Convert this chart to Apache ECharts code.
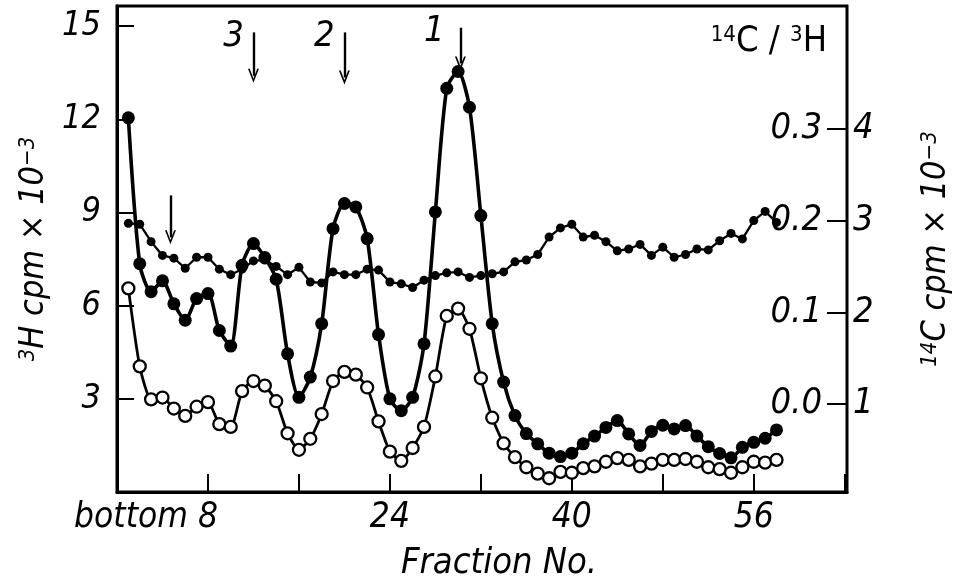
<!DOCTYPE html>
<html><head><meta charset="utf-8">
<script src="https://cdn.jsdelivr.net/npm/echarts@6/dist/echarts.min.js"></script>
<style>html,body{margin:0;padding:0;background:#fff}#c{width:964px;height:587px}</style>
</head><body><div id="c"></div>
<script>
// ---- data ----
const fractions = [1,2,3,4,5,6,7,8,9,10,11,12,13,14,15,16,17,18,19,20,21,22,23,24,25,26,27,28,29,30,31,32,33,34,35,36,37,38,39,40,41,42,43,44,45,46,47,48,49,50,51,52,53,54,55,56,57,58];
// 3H cpm x 10^-3 (filled circles, heavy line)
const h3Cpm = [12.05,7.35,6.45,6.8,6.06,5.53,6.23,6.39,5.2,4.7,7.3,8.0,7.55,6.85,4.45,3.05,3.7,5.42,8.48,9.29,9.18,8.16,5.07,3.0,2.62,3.05,4.77,9.02,13.0,13.54,12.39,8.9,5.42,3.54,2.46,1.88,1.55,1.25,1.14,1.25,1.55,1.8,2.08,2.3,1.87,1.5,1.95,2.15,2.03,2.14,1.8,1.46,1.24,1.1,1.44,1.6,1.73,2.0];
// 14C cpm x 10^-3 (open circles)
const c14Cpm = [2.26,1.41,1.05,1.07,0.95,0.87,0.97,1.02,0.78,0.75,1.14,1.25,1.2,1.03,0.68,0.5,0.62,0.89,1.25,1.35,1.32,1.18,0.81,0.48,0.38,0.52,0.75,1.3,1.96,2.04,1.82,1.28,0.85,0.57,0.42,0.31,0.24,0.19,0.26,0.25,0.3,0.32,0.37,0.41,0.39,0.32,0.35,0.39,0.39,0.4,0.37,0.31,0.29,0.25,0.31,0.37,0.36,0.39];
// 14C/3H ratio (small dots, thin line)
const ratio14C3H = [0.197,0.196,0.177,0.162,0.159,0.148,0.16,0.16,0.147,0.141,0.147,0.156,0.157,0.15,0.141,0.149,0.133,0.132,0.144,0.141,0.141,0.147,0.146,0.133,0.131,0.127,0.135,0.14,0.143,0.144,0.138,0.14,0.142,0.144,0.155,0.157,0.163,0.182,0.192,0.196,0.182,0.184,0.177,0.167,0.169,0.174,0.162,0.171,0.16,0.163,0.169,0.168,0.178,0.186,0.18,0.2,0.21,0.198];
// tick labels
const xTickLabels = {8:'bottom 8', 24:'24', 40:'40', 56:'56'};
const h3Ticks = [3,6,9,12,15];
const ratioTicks = [0.0,0.1,0.2,0.3];
const c14Ticks = [1,2,3,4];
// peak markers (fraction, arrow top / tip on the 3H scale)
const peakLabels = ['3','2','1'];
const peakFractions = [12,20,30.2];
const peakArrowTop = [14.8,14.8,14.95];
const peakArrowTip = [13.4,13.35,13.8];
const extraArrow = {fraction:4.7, top:9.55, tip:8.2};

// ---- chart ----
const FONT = "'Liberation Sans Narrow','DejaVu Sans Condensed','Liberation Sans',sans-serif";
const chart = echarts.init(document.getElementById('c'));
const meas = document.createElement('canvas').getContext('2d');
meas.font = 'italic 35px ' + FONT;
const padW = meas.measureText('bottom ').width;

const arrowPath = 'path://M5 0L10 11L8.4 11L5 3.4L1.6 11L0 11Z';
const arrowLines = peakFractions.map((f,i)=>[{coord:[f,peakArrowTop[i]]},{coord:[f,peakArrowTip[i]]}]);
arrowLines.push([{coord:[extraArrow.fraction,extraArrow.top]},{coord:[extraArrow.fraction,extraArrow.tip]}]);

const txt = {fontFamily:FONT, fontStyle:'italic', color:'#000'};

chart.setOption({
  animation:false,
  backgroundColor:'#fff',
  grid:{left:117,right:117,top:6,bottom:95,show:true,borderColor:'#000',borderWidth:3,backgroundColor:'transparent'},
  xAxis:{
    type:'value',min:0,max:64.2,interval:8,
    axisLine:{lineStyle:{color:'#000',width:3}},
    axisTick:{inside:true,length:18,lineStyle:{color:'#000',width:2}},
    splitLine:{show:false},
    axisLabel:Object.assign({},txt,{fontSize:35,margin:8,
      formatter:v=>{ const l=xTickLabels[v]; if(!l) return ''; if(v===8) return '{a|bottom }{a|8}{p|}'; return l; },
      rich:{a:Object.assign({},txt,{fontSize:35}), p:{width:padW}}}),
    name:'Fraction No.',nameLocation:'middle',nameGap:54,
    nameTextStyle:Object.assign({},txt,{fontSize:36,padding:[0,0,0,34]})
  },
  yAxis:[
    {type:'value',min:0,max:15.65,interval:3,position:'left',
      axisLine:{show:true,lineStyle:{color:'#000',width:3}},
      axisTick:{inside:true,length:17,lineStyle:{color:'#000',width:2}},
      splitLine:{show:false},
      axisLabel:Object.assign({},txt,{fontSize:34,margin:16,formatter:v=>h3Ticks.includes(v)?String(v):''}),
      name:'{s|3}{t|H cpm × 10}{s|−3}',nameLocation:'middle',nameRotate:90,nameGap:66,
      nameTextStyle:{rich:{s:Object.assign({},txt,{fontSize:22,verticalAlign:'top'}),t:Object.assign({},txt,{fontSize:34})}}
    },
    {type:'value',min:0.04,max:5.34,position:'right',
      axisLine:{show:false},axisTick:{show:false},splitLine:{show:false},
      axisLabel:Object.assign({},txt,{fontSize:36,margin:6,customValues:c14Ticks,formatter:v=>String(v)}),
      name:'{s|14}{t|C cpm × 10}{s|−3}',nameLocation:'middle',nameRotate:90,nameGap:72,
      nameTextStyle:{rich:{s:Object.assign({},txt,{fontSize:22,verticalAlign:'top'}),t:Object.assign({},txt,{fontSize:34})}}
    },
    {type:'value',min:-0.096,max:0.434,position:'right',
      axisLine:{show:false},splitLine:{show:false},
      axisTick:{inside:true,length:20,customValues:ratioTicks,lineStyle:{color:'#000',width:2}},
      axisLabel:Object.assign({},txt,{fontSize:36,inside:true,margin:25,customValues:ratioTicks,formatter:v=>v.toFixed(1)})
    }
  ],
  graphic:[{type:'text',right:137,top:24,
    style:{text:'{s|14}{t|C / }{s|3}{t|H}',rich:{s:Object.assign({},txt,{fontStyle:'normal',fontSize:22,verticalAlign:'top'}),t:Object.assign({},txt,{fontStyle:'normal',fontSize:36})}}}],
  series:[
    {name:'3H',type:'line',yAxisIndex:0,smooth:0.25,data:fractions.map((f,i)=>[f,h3Cpm[i]]),
      symbol:'circle',symbolSize:13,itemStyle:{color:'#000'},lineStyle:{color:'#000',width:3.6},z:3,
      markLine:{silent:true,symbol:['none',arrowPath],symbolSize:[11,14],symbolOffset:[0,0],
        lineStyle:{color:'#000',width:2.4,type:'solid'},label:{show:false},data:arrowLines},
      markPoint:{silent:true,symbol:'circle',symbolSize:0,
        label:Object.assign({},txt,{show:true,fontSize:36,formatter:p=>p.name}),
        data:peakFractions.map((f,i)=>({name:peakLabels[i],coord:[f,peakArrowTop[i]],label:{offset:[i===2?-26:-20,4]}}))}
    },
    {name:'14C',type:'line',yAxisIndex:1,smooth:0.2,data:fractions.map((f,i)=>[f,c14Cpm[i]]),
      symbol:'circle',symbolSize:12,itemStyle:{color:'#fff',borderColor:'#000',borderWidth:2.3},
      lineStyle:{color:'#000',width:2.8},z:4},
    {name:'ratio',type:'line',yAxisIndex:2,data:fractions.map((f,i)=>[f,ratio14C3H[i]]),
      symbol:'circle',symbolSize:9,itemStyle:{color:'#000'},lineStyle:{color:'#000',width:2.3},z:2}
  ]
});
</script></body></html>
